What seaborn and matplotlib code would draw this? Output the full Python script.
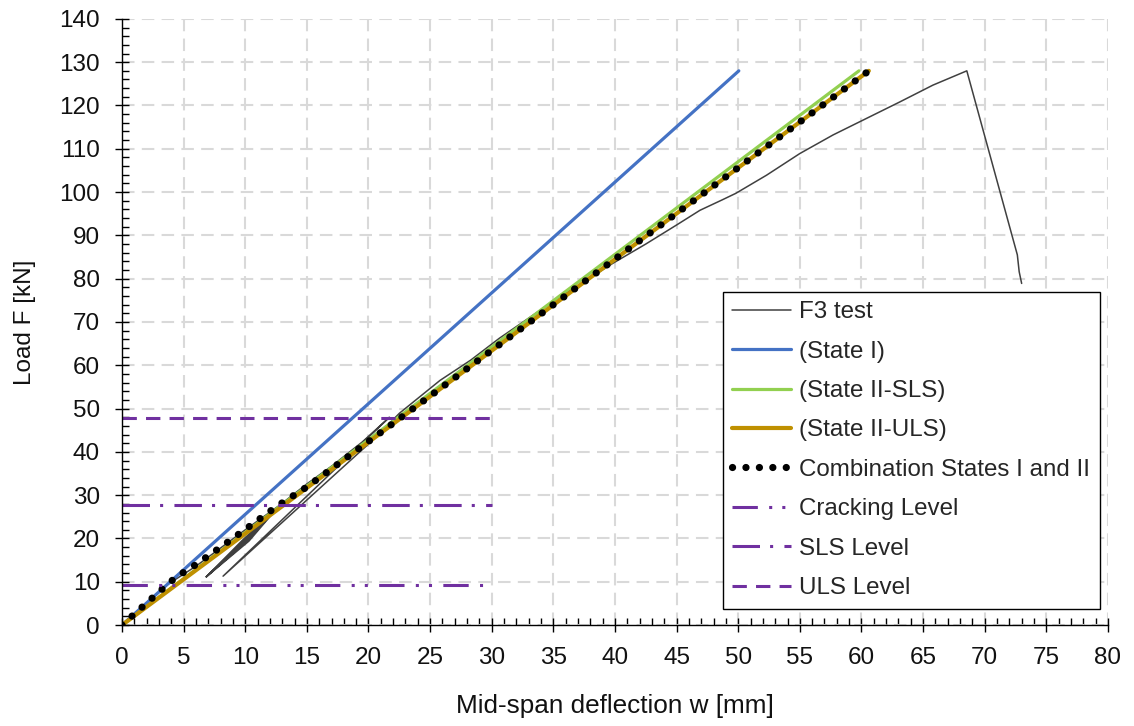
import numpy as np
import pandas as pd
import matplotlib
matplotlib.use("Agg")
import matplotlib.pyplot as plt
import seaborn as sns
from matplotlib.ticker import MultipleLocator

# --- data ---
# F3 test (load / unload cycles included)
test_x = [0, 3.6, 6.0, 8.0, 10.0, 12.8,
          9.7, 6.84, 9.85, 12.8, 10.0, 6.84, 10.15, 12.8, 10.3, 6.84, 10.0, 12.8,
          15.0, 17.1, 19.5, 21.7,
          8.2, 20.65,
          22.5, 25.8, 28.3, 30.6, 35.0, 39.8, 42.5, 45.0, 46.9, 48.7, 49.8,
          52.3, 55.0, 57.7, 60.4, 63.1, 65.8, 68.55,
          72.65, 72.8, 73.0]
test_y = [0, 9.2, 13.6, 17.8, 22.0, 27.7,
          19.4, 11.15, 19.4, 27.7, 19.4, 11.15, 19.4, 27.7, 19.4, 11.15, 19.4, 27.7,
          32.6, 36.9, 42.3, 48.0,
          11.3, 43.5,
          48.9, 56.5, 61.2, 66.2, 74.8, 83.5, 88.0, 92.4, 95.8, 98.2, 99.7,
          103.9, 108.9, 113.2, 117.0, 120.8, 124.7, 128.0,
          85.5, 81.6, 78.9]

state1_x = [0, 50.05]
state1_y = [0, 128]
sls_x = [0, 59.8]
sls_y = [0, 128]
uls_x = [0, 60.6]
uls_y = [0, 128]

comb_x = [0, 3.65, 4.4, 5.8, 8.06, 10.1, 12.6, 15.0, 20.0, 25.0, 60.6]
comb_y = [0, 9.3, 11.1, 13.6, 18.1, 22.3, 27.5, 31.9, 42.4, 52.9, 128]

level_x = [0, 30]
cracking_level = 9.35
sls_level = 27.7
uls_level = 47.8

sns.set_theme(style="ticks")
plt.rcParams['font.family'] = ['Liberation Sans', 'DejaVu Sans']

fig, ax = plt.subplots(figsize=(11.34, 7.26), dpi=100)
fig.subplots_adjust(left=0.1076, right=0.977, bottom=0.139, top=0.974)

purple = '#7030A0'

sns.lineplot(x=test_x, y=test_y, ax=ax, sort=False, estimator=None,
             color='#404040', linewidth=1.1, label='F3 test')
sns.lineplot(x=state1_x, y=state1_y, ax=ax, sort=False, estimator=None,
             color='#4472C4', linewidth=2.3, label='(State I)')
sns.lineplot(x=sls_x, y=sls_y, ax=ax, sort=False, estimator=None,
             color='#92D050', linewidth=2.3, label='(State II-SLS)')
sns.lineplot(x=uls_x, y=uls_y, ax=ax, sort=False, estimator=None,
             color='#BF9000', linewidth=3.0, label='(State II-ULS)')
sns.lineplot(x=comb_x, y=comb_y, ax=ax, sort=False, estimator=None,
             color='black', linewidth=5.2, linestyle=(0, (0.01, 1.85)),
             dash_capstyle='round', label='Combination States I and II')
sns.lineplot(x=level_x, y=[cracking_level] * 2, ax=ax, sort=False, estimator=None,
             color=purple, linewidth=2.2,
             linestyle=(0, (8.3, 3.7, 1, 3.3, 1, 3.7)), label='Cracking Level')
sns.lineplot(x=level_x, y=[sls_level] * 2, ax=ax, sort=False, estimator=None,
             color=purple, linewidth=2.2,
             linestyle=(0, (9, 3.3, 1, 3.7)), label='SLS Level')
sns.lineplot(x=level_x, y=[uls_level] * 2, ax=ax, sort=False, estimator=None,
             color=purple, linewidth=2.2,
             linestyle=(0, (4.7, 3)), label='ULS Level')

ax.set_xlim(0, 80)
ax.set_ylim(0, 140)
ax.xaxis.set_major_locator(MultipleLocator(5))
ax.xaxis.set_minor_locator(MultipleLocator(1))
ax.yaxis.set_major_locator(MultipleLocator(10))
ax.yaxis.set_minor_locator(MultipleLocator(2))

ax.grid(True, which='major', color='#d9d9d9', linewidth=1.5, linestyle=(0, (6, 3.5)))
ax.set_axisbelow(True)

for side in ['top', 'right']:
    ax.spines[side].set_visible(False)
for side in ['left', 'bottom']:
    ax.spines[side].set_color('black')
    ax.spines[side].set_linewidth(1.0)

ax.tick_params(which='major', direction='inout', length=10, width=1,
               color='black', labelsize=17.5, labelcolor='#111111', pad=11)
ax.tick_params(which='minor', direction='in', length=5, width=1, color='black')

ax.set_xlabel('Mid-span deflection w [mm]', fontsize=18.8, labelpad=18, color='#111111')
ax.set_ylabel('Load F [kN]', fontsize=17.5, labelpad=16.5, color='#111111')

leg = ax.legend(loc='lower right', bbox_to_anchor=(0.992, 0.027), fontsize=17.4,
                frameon=True, fancybox=False, framealpha=1, edgecolor='black',
                handlelength=2.45, handletextpad=0.33, labelspacing=0.72,
                borderpad=0.4, borderaxespad=0)
leg.get_frame().set_linewidth(1.0)

fig.savefig('out.png', dpi=100)
